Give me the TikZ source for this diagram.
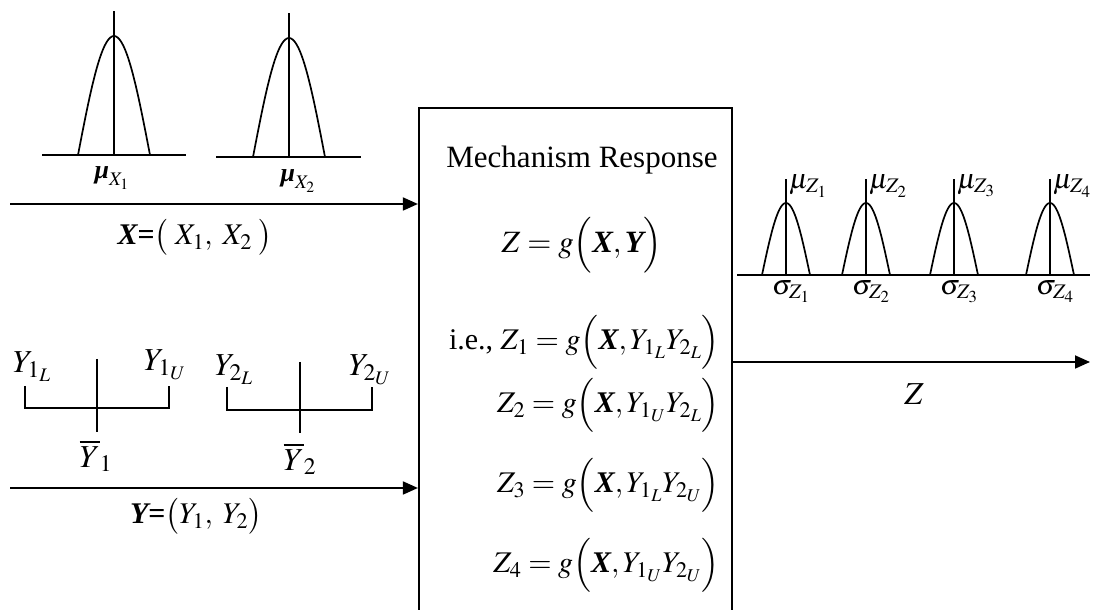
\documentclass[tikz,border=0pt]{standalone}
\usepackage{amsmath}
\usepackage{mathptmx}
\usepackage[no-math]{fontspec}
\setmainfont{Liberation Serif}
\usetikzlibrary{arrows.meta}
\newcommand\bX{\mbox{\normalfont\bfseries\itshape X}}
\newcommand\bY{\mbox{\normalfont\bfseries\itshape Y}}
\newcommand\bmu{\mbox{\normalfont\bfseries\itshape μ}}
\newcommand\bellcurve[4]{%
  \draw[thin line] plot[domain=-1:1, samples=41, smooth]
    ({#1+#3*\x}, {#2+#4*cos(90*\x)});}
\begin{document}
\begin{tikzpicture}[x=1pt,y=1pt,
  thin line/.style={line width=1.7pt},
  arr/.style={line width=1.8pt,-{Triangle[length=15pt,width=13pt]}},
  boxst/.style={draw,line width=2.2pt,inner sep=0pt},
  big/.style={font=\fontsize{31}{37}\selectfont,inner sep=0pt},
  mid/.style={font=\fontsize{30}{36}\selectfont,inner sep=0pt},
  lab/.style={font=\fontsize{30}{36}\selectfont,inner sep=0pt},
  ylab/.style={font=\fontsize{32}{38}\selectfont,inner sep=0pt},
  small/.style={font=\fontsize{26}{31}\selectfont,inner sep=0pt},
  zsmall/.style={font=\fontsize{28}{33}\selectfont,inner sep=0pt}]
\useasboundingbox (0,0) rectangle (1096,610);

% ---------- X distributions ----------
\draw[thin line] (42,455) -- (186,455);
\draw[thin line] (114,455) -- (114,599);
\bellcurve{114}{455}{36}{119}
\node[small] (mux1) at (112,432) {$\bmu_{X_1}$};

\draw[thin line] (216,453) -- (361,453);
\draw[thin line] (289,453) -- (289,597);
\bellcurve{289}{453}{36}{119}
\node[small] (mux2) at (298,429) {$\bmu_{X_2}$};

% ---------- main box ----------
\node[boxst, minimum width=313pt, minimum height=522pt] (box) at (575.5,241) {};

% ---------- X arrow ----------
\coordinate (xs) at (10,406);
\draw[arr] (xs) -- (xs -| box.west);
\node[lab] (xlab) at (195,373) {$\bX\mbox{\normalfont\bfseries =}\bigl(\;X_1,\; X_2\;\bigr)$};

% ---------- Y intervals ----------
\draw[thin line] (25,224) -- (25,202) -- (169,202) -- (169,224);
\draw[thin line] (97,251) -- (97,178);
\node[ylab] (y1l) at (32,243) {$Y_{1_L}$};
\node[ylab] (y1u) at (165,245) {$Y_{1_U}$};
\node[ylab] (y1b) at (96,154) {$\overline{Y}_1$};

\draw[thin line] (227,223) -- (227,200) -- (372,200) -- (372,223);
\draw[thin line] (300,248) -- (300,177);
\node[ylab] (y2l) at (234,240) {$Y_{2_L}$};
\node[ylab] (y2u) at (370,240) {$Y_{2_U}$};
\node[ylab] (y2b) at (300,151) {$\overline{Y}_2$};

\coordinate (ys) at (10,122);
\draw[arr] (ys) -- (ys -| box.west);
\node[lab] (ylab) at (196,94) {$\bY\mbox{\normalfont\bfseries =}\bigl(Y_1,\; Y_2\bigr)$};

% ---------- box text ----------
\node[big] (mech) at (582,450) {Mechanism Response};
\node[big] (zeq) at (582,365) {$Z = g\Bigl(\bX,\bY\Bigr)$};
\node[mid, anchor=base east] (z1) at (720,260) {i.e., $Z_1 = g\Bigl(\bX, Y_{1_L} Y_{2_L}\Bigr)$};
\node[mid, anchor=base east] (z2) at (720,197) {$Z_2 = g\Bigl(\bX, Y_{1_U} Y_{2_L}\Bigr)$};
\node[mid, anchor=base east] (z3) at (720,117) {$Z_3 = g\Bigl(\bX, Y_{1_L} Y_{2_U}\Bigr)$};
\node[mid, anchor=base east] (z4) at (720,37) {$Z_4 = g\Bigl(\bX, Y_{1_U} Y_{2_U}\Bigr)$};

% ---------- output ----------
\draw[thin line] (737,335) -- (1090,335);
\foreach \c/\i in {786/1,866/2,954/3,1050/4}{
  \draw[thin line] (\c,335) -- (\c,431);
  \bellcurve{\c}{335}{24}{72}
  \node[zsmall, anchor=west] (muz\i) at (\c+3,424) {$\mu_{Z_{\i}}$};
  \node[zsmall, anchor=north west] (sz\i) at (\c-14,330) {$\sigma_{Z_{\i}}$};
}
\coordinate (zend) at (1090,248);
\draw[arr] (box.east |- zend) -- (zend);
\node[ylab] (zlab) at (914,216) {$Z$};
\end{tikzpicture}
\end{document}
